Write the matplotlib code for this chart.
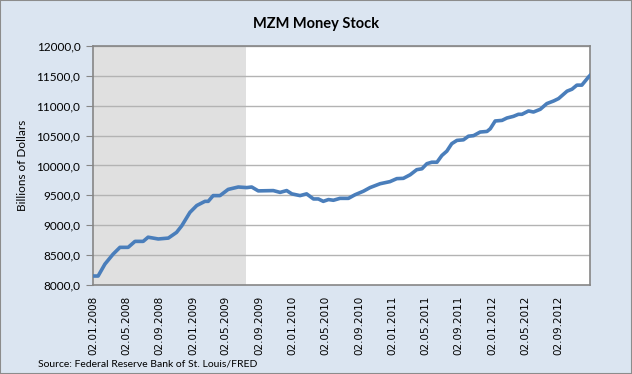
import matplotlib
matplotlib.use("Agg")
import matplotlib.pyplot as plt
import matplotlib.dates as mdates
import matplotlib.ticker as mticker
import numpy as np
import pandas as pd

# MZM values (billions of dollars)
dates = ["2008-01-02", "2008-01-21", "2008-02-15", "2008-03-16", "2008-04-10",
         "2008-05-10", "2008-06-04", "2008-07-04", "2008-07-22", "2008-08-28",
         "2008-10-04", "2008-11-03", "2008-11-22", "2008-12-22", "2009-01-16",
         "2009-02-15", "2009-02-27", "2009-03-17", "2009-04-11", "2009-05-11",
         "2009-06-17", "2009-07-18", "2009-08-05", "2009-08-29", "2009-10-23",
         "2009-11-17", "2009-12-11", "2009-12-30", "2010-01-29", "2010-02-22",
         "2010-03-19", "2010-04-06", "2010-04-24", "2010-05-13", "2010-05-31",
         "2010-06-24", "2010-07-25", "2010-08-18", "2010-09-18", "2010-10-12",
         "2010-11-18", "2010-12-24", "2011-01-18", "2011-02-11", "2011-03-08",
         "2011-04-01", "2011-04-20", "2011-05-08", "2011-05-26", "2011-06-14",
         "2011-07-02", "2011-07-20", "2011-08-07", "2011-08-26", "2011-09-19",
         "2011-10-07", "2011-10-26", "2011-11-19", "2011-12-14", "2011-12-26",
         "2012-01-13", "2012-02-07", "2012-02-25", "2012-03-20", "2012-04-07",
         "2012-04-20", "2012-05-14", "2012-06-01", "2012-06-26", "2012-07-20",
         "2012-08-14", "2012-09-01", "2012-10-02", "2012-10-20", "2012-11-07",
         "2012-11-25", "2012-12-20", "2012-12-26"]
mzm = [8150, 8150, 8350, 8517, 8630,
       8630, 8730, 8730, 8800, 8770,
       8785, 8880, 8990, 9215, 9330,
       9400, 9400, 9496, 9496, 9600,
       9640, 9630, 9640, 9575, 9580,
       9550, 9580, 9525, 9496, 9525,
       9440, 9440, 9400, 9430, 9418,
       9450, 9450, 9510, 9570, 9630,
       9695, 9730, 9780, 9785, 9845,
       9930, 9945, 10030, 10055, 10055,
       10168, 10240, 10365, 10420, 10430,
       10490, 10500, 10560, 10570, 10615,
       10745, 10755, 10795, 10823, 10857,
       10857, 10913, 10895, 10941, 11036,
       11080, 11120, 11244, 11277, 11345,
       11345, 11484, 11512]

# recession shading
rec_start = "2008-01-02"
rec_end = "2009-07-15"

# x tick labels every 4 months
tick_dates = ["2008-01-02", "2008-05-02", "2008-09-02", "2009-01-02", "2009-05-02",
              "2009-09-02", "2010-01-02", "2010-05-02", "2010-09-02", "2011-01-02",
              "2011-05-02", "2011-09-02", "2012-01-02", "2012-05-02", "2012-09-02"]

x = pd.to_datetime(dates)
ticks = pd.to_datetime(tick_dates)

bg = "#dbe5f1"
fig = plt.figure(figsize=(6.32, 3.74), dpi=100, facecolor=bg)
fig.patches.append(plt.Rectangle((0, 0), 1, 1, transform=fig.transFigure,
                                 fill=False, edgecolor="#8c8c8c", linewidth=1.5))
ax = fig.add_axes([0.147, 0.238, 0.787, 0.639])
ax.set_facecolor("white")

ax.axvspan(pd.Timestamp(rec_start), pd.Timestamp(rec_end), color="#e0e0e0", lw=0, zorder=0)
for v in np.arange(8500, 12001, 500):
    ax.axhline(v, color="#b3b3b3", lw=1, zorder=1)
ax.plot(x, mzm, color="#4a7ebb", lw=2.6, zorder=3, solid_joinstyle="round")

ax.set_xlim(x[0], x[-1])
ax.set_ylim(8000, 12000)
ax.set_yticks(np.arange(8000, 12001, 500))
ax.yaxis.set_major_formatter(mticker.FuncFormatter(lambda v, p: ("%.1f" % v).replace(".", ",")))
ax.set_xticks(ticks)
ax.set_xticklabels([t.strftime("%d.%m.%Y") for t in ticks], rotation=90,
                   fontsize=7.5, family="DejaVu Sans")
ax.tick_params(axis="x", length=0, pad=8)
ax.tick_params(axis="y", length=5, color="#868686", pad=4, labelsize=8.5)
for lab in ax.get_yticklabels():
    lab.set_family("Lato")
for s in ax.spines.values():
    s.set_color("#868686")
    s.set_linewidth(1.2)

fig.text(0.5, 0.935, "MZM Money Stock", ha="center", va="center",
         fontsize=10.5, fontweight="bold", family="Lato")
fig.text(0.036, 0.557, "Billions of Dollars", rotation=90, ha="center", va="center",
         fontsize=8.5, family="Lato")
fig.text(0.06, 0.027, "Source: Federal Reserve Bank of St. Louis/FRED", ha="left",
         va="center", fontsize=7.5, family="Lato")

fig.savefig("out.png", dpi=100, facecolor=bg)
